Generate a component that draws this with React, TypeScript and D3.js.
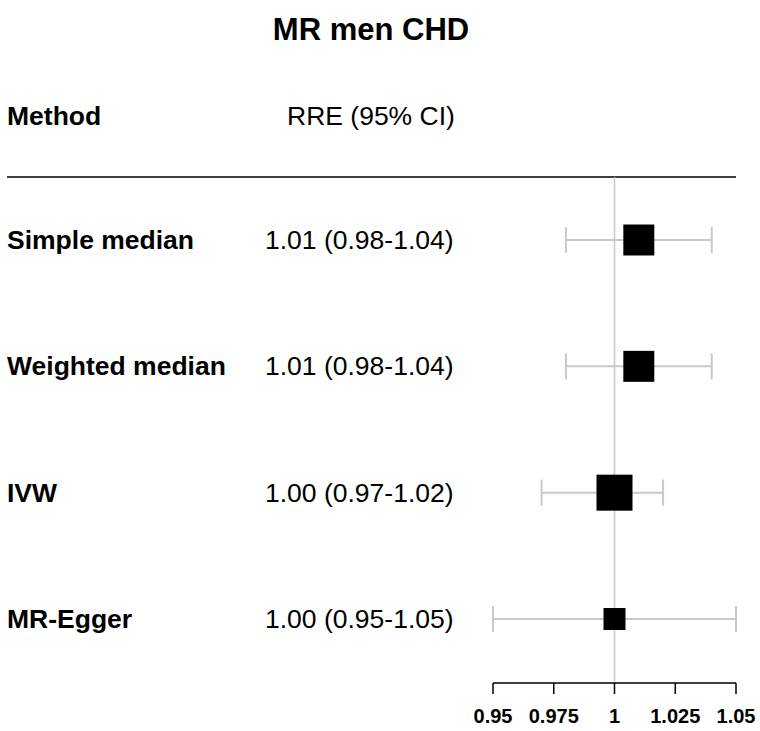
import React from "react";
import * as d3 from "d3";

const title = "MR men CHD";
const methods = ["Simple median", "Weighted median", "IVW", "MR-Egger"];
const estimates = [1.01, 1.01, 1.0, 1.0];
const lowers = [0.98, 0.98, 0.97, 0.95];
const uppers = [1.04, 1.04, 1.02, 1.05];
const weights = [0.86, 0.86, 1.0, 0.61];
const ticks = [0.95, 0.975, 1, 1.025, 1.05];
const tickLabels = ["0.95", "0.975", "1", "1.025", "1.05"];

const W = 760;
const H = 731;
const FONT = "'Liberation Sans', Arial, Helvetica, sans-serif";

export default function App() {
  const x = d3.scaleLinear().domain([0.95, 1.05]).range([493, 736]);
  const y = d3.scalePoint<string>().domain(methods).range([240, 619]);
  const size = d3.scaleLinear().domain([0, 1]).range([0, 36]);
  const f2 = d3.format(".2f");
  const axisY = 683;
  const ruleY = 177;
  const gray = "#c8c8c8";

  return (
    <svg
      width={W}
      height={H}
      style={{ position: "absolute", left: 0, top: 0, background: "#fff" }}
      fontFamily={FONT}
    >
      <rect x={0} y={0} width={W} height={H} fill="#fff" />
      <text x={371} y={29} textAnchor="middle" dominantBaseline="central" fontWeight="bold" fontSize={31}>
        {title}
      </text>
      <text x={7} y={116} dominantBaseline="central" fontWeight="bold" fontSize={26.5}>
        Method
      </text>
      <text x={287} y={116} dominantBaseline="central" fontSize={26.5}>
        RRE (95% CI)
      </text>
      <line x1={7} x2={736} y1={ruleY} y2={ruleY} stroke="#000" strokeWidth={1.5} />
      <line x1={x(1)} x2={x(1)} y1={ruleY} y2={axisY} stroke={gray} strokeWidth={1.5} />

      {methods.map((m, i) => {
        const cy = y(m) as number;
        const s = size(weights[i]);
        return (
          <g key={m}>
            <text x={7} y={cy} dominantBaseline="central" fontWeight="bold" fontSize={26.5}>
              {m}
            </text>
            <text x={265} y={cy} dominantBaseline="central" fontSize={26.5}>
              {`${f2(estimates[i])} (${f2(lowers[i])}-${f2(uppers[i])})`}
            </text>
            <line x1={x(lowers[i])} x2={x(uppers[i])} y1={cy} y2={cy} stroke={gray} strokeWidth={2} />
            <line x1={x(lowers[i])} x2={x(lowers[i])} y1={cy - 13} y2={cy + 13} stroke={gray} strokeWidth={2} />
            <line x1={x(uppers[i])} x2={x(uppers[i])} y1={cy - 13} y2={cy + 13} stroke={gray} strokeWidth={2} />
            <rect x={x(estimates[i]) - s / 2} y={cy - s / 2} width={s} height={s} fill="#000" />
          </g>
        );
      })}

      <line x1={x(0.95)} x2={x(1.05)} y1={axisY} y2={axisY} stroke="#000" strokeWidth={1.5} />
      {ticks.map((t, i) => (
        <g key={t}>
          <line x1={x(t)} x2={x(t)} y1={axisY} y2={axisY + 11} stroke="#000" strokeWidth={1.5} />
          <text x={x(t)} y={716} textAnchor="middle" dominantBaseline="central" fontWeight="bold" fontSize={20}>
            {tickLabels[i]}
          </text>
        </g>
      ))}
    </svg>
  );
}
